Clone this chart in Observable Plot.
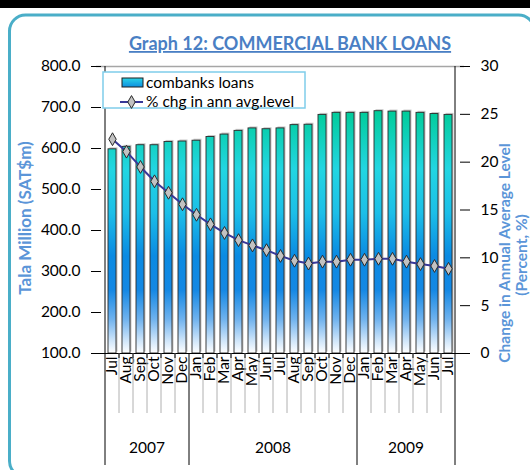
<!DOCTYPE html>
<html><head><meta charset="utf-8">
<script src="https://cdn.jsdelivr.net/npm/d3@7"></script>
<script src="https://cdn.jsdelivr.net/npm/@observablehq/plot@0.6"></script>
<style>body{margin:0;background:#fff}#chart svg{display:block}</style>
</head><body><div id="chart"></div>
<script>
const months = ["Jul","Aug","Sep","Oct","Nov","Dec","Jan","Feb","Mar","Apr","May","Jun","Jul","Aug","Sep","Oct","Nov","Dec","Jan","Feb","Mar","Apr","May","Jun","Jul"];
const years = [2007,2007,2007,2007,2007,2007,2008,2008,2008,2008,2008,2008,2008,2008,2008,2008,2008,2008,2009,2009,2009,2009,2009,2009,2009];
const loans = [598,604,608,608,616,617,619,628,634,643,649,647,649,657,658,682,687,687,687,691,690,690,687,684,682];
const pctChange = [22.4,21.1,19.5,18.0,16.8,15.6,14.5,13.5,12.6,11.85,11.3,10.8,10.2,9.7,9.4,9.6,9.6,9.8,9.8,9.9,9.9,9.6,9.35,9.15,8.85];
const leftTicks = [100,200,300,400,500,600,700,800];
const rightTicks = [0,5,10,15,20,25,30];
const yearLabels = ["2007","2008","2009"];
const seriesNames = ["combanks loans","% chg in ann avg.level"];
const titleText = "Graph 12: COMMERCIAL BANK LOANS";
const leftTitle = "Tala Million (SAT$m)";
const rightTitle = ["Change in Annual Average Level","(Percent, %)"];

const Y0 = 100, Y1 = 800, P1 = 30;
const toLeft = p => Y0 + p * (Y1 - Y0) / P1;
const keys = months.map((m, i) => years[i] + "-" + i + "-" + m);
const data = keys.map((k, i) => ({key: k, month: months[i], year: years[i], loans: loans[i], pct: pctChange[i]}));

const W = 530, H = 470;
const mL = 96, mR = 66, mT = 66, mB = 117;
const FONT = "Lato, 'Open Sans', sans-serif";

const chart = Plot.plot({
  width: W, height: H,
  marginLeft: mL, marginRight: mR, marginTop: mT, marginBottom: mB,
  style: {fontFamily: FONT, fontSize: "15px", color: "#000", background: "transparent"},
  x: {type: "band", domain: keys, padding: 0, axis: null},
  y: {domain: [Y0, Y1], axis: null},
  marks: [
    Plot.ruleY([Y1], {stroke: "#a6a6a6", strokeWidth: 1.5}),
    Plot.barY(data, {x: "key", y1: Y0, y2: "loans", fill: "#a0a0a0", fillOpacity: 0.6, insetLeft: 3, insetRight: 3, dx: 1.5, dy: -1.5}),
    Plot.barY(data, {x: "key", y1: Y0, y2: "loans", fill: "url(#barGrad)", stroke: "#2a2a2a", strokeWidth: 0.9, insetLeft: 3, insetRight: 3}),
    Plot.line(data, {x: "key", y: d => toLeft(d.pct), stroke: "#383898", strokeWidth: 2}),
    Plot.dot(data, {x: "key", y: d => toLeft(d.pct), symbol: "diamond", r: 3.9, fill: "#c2c2c2", stroke: "#2a2a2a", strokeWidth: 1}),
    Plot.ruleY([Y0], {stroke: "#000", strokeWidth: 1}),
    Plot.axisY(leftTicks, {anchor: "left", tickSize: 5, tickPadding: 11, tickFormat: d => d.toFixed(1), label: null, fontSize: 15.5}),
    Plot.axisY(leftTicks, {anchor: "left", tickSize: 5, dx: 5, tickFormat: () => "", label: null}),
    Plot.axisY(rightTicks.map(toLeft), {anchor: "right", tickSize: 5, tickPadding: 11, tickFormat: v => String(Math.round((v - Y0) * P1 / (Y1 - Y0))), label: null, fontSize: 15.5}),
    Plot.axisY(rightTicks.map(toLeft), {anchor: "right", tickSize: 5, dx: -5, tickFormat: () => "", label: null}),
    Plot.axisX({tickRotate: -90, tickSize: 0, tickPadding: 3, tickFormat: k => k.split("-")[2], label: null, fontSize: 15.5})
  ]
});
document.getElementById("chart").appendChild(chart);

const svg = d3.select(chart);
const xs = chart.scale("x"), ys = chart.scale("y");
const bw = xs.bandwidth;
const yTop = ys.apply(Y1), yBot = ys.apply(Y0);
const xLeft = xs.apply(keys[0]), xRight = xs.apply(keys[keys.length - 1]) + bw;

// gradients
const defs = svg.insert("defs", ":first-child");
const g1 = defs.append("linearGradient").attr("id", "barGrad").attr("gradientUnits", "userSpaceOnUse")
  .attr("x1", 0).attr("x2", 0).attr("y1", ys.apply(d3.max(loans))).attr("y2", yBot);
[[0, "#00cc99"], [0.24, "#22d6e2"], [0.42, "#1cbfe8"], [0.6, "#0a8ae2"], [0.74, "#1488e4"], [0.86, "#6fb2ee"], [0.95, "#d0e6fa"], [1, "#ffffff"]]
  .forEach(([o, c]) => g1.append("stop").attr("offset", o).attr("stop-color", c));
const g2 = defs.append("linearGradient").attr("id", "swGrad").attr("x1", 0).attr("x2", 0).attr("y1", 0).attr("y2", 1);
[[0, "#2ad4e6"], [1, "#0d8ee0"]].forEach(([o, c]) => g2.append("stop").attr("offset", o).attr("stop-color", c));

// outer frame
svg.append("rect").attr("x", 0).attr("y", 0).attr("width", W).attr("height", 8).attr("fill", "#000");
svg.append("rect").attr("x", 9.5).attr("y", 15).attr("width", 525).attr("height", 462).attr("rx", 16)
  .attr("fill", "none").attr("stroke", "#4aaec8").attr("stroke-width", 3);

// axis lines
svg.append("line").attr("x1", xLeft).attr("x2", xLeft).attr("y1", yTop).attr("y2", yBot).attr("stroke", "#000");
svg.append("line").attr("x1", xRight).attr("x2", xRight).attr("y1", yTop).attr("y2", yBot).attr("stroke", "#000");

// category separators
keys.forEach((k, i) => {
  const xp = xs.apply(k);
  const isYear = i === 0 || years[i] !== years[i - 1];
  if (!isYear) {
    svg.append("line").attr("x1", xp).attr("x2", xp).attr("y1", yBot).attr("y2", yBot + 60).attr("stroke", "#b0b0b0");
    svg.append("line").attr("x1", xp).attr("x2", xp).attr("y1", yBot).attr("y2", yBot + 5).attr("stroke", "#000");
  }
});
const yearBounds = [];
keys.forEach((k, i) => { if (i === 0 || years[i] !== years[i - 1]) yearBounds.push(i); });
yearBounds.push(keys.length);
yearBounds.forEach(i => {
  const xp = i < keys.length ? xs.apply(keys[i]) : xRight;
  svg.append("line").attr("x1", xp).attr("x2", xp).attr("y1", yBot).attr("y2", yBot + 112).attr("stroke", "#000");
});
yearLabels.forEach((yl, j) => {
  const a = xs.apply(keys[yearBounds[j]]);
  const b = yearBounds[j + 1] < keys.length ? xs.apply(keys[yearBounds[j + 1]]) : xRight;
  svg.append("text").attr("x", (a + b) / 2).attr("y", yBot + 100).attr("text-anchor", "middle")
    .attr("font-size", 15.5).attr("fill", "#000").text(yl);
});

// title
svg.append("text").attr("x", 290).attr("y", 50).attr("text-anchor", "middle")
  .attr("font-size", 18).attr("font-weight", "bold").attr("fill", "#4a7fc4")
  .attr("text-decoration", "underline").text(titleText);

// axis titles
svg.append("text").attr("transform", "translate(31,218) rotate(-90)").attr("text-anchor", "middle")
  .attr("font-size", 17).attr("font-weight", "bold").attr("fill", "#5b95d8").text(leftTitle);
svg.append("text").attr("transform", "translate(510,253) rotate(-90)").attr("text-anchor", "middle")
  .attr("font-size", 15.5).attr("font-weight", "bold").attr("fill", "#5b95d8").text(rightTitle[0]);
svg.append("text").attr("transform", "translate(527,255) rotate(-90)").attr("text-anchor", "middle")
  .attr("font-size", 15.5).attr("font-weight", "bold").attr("fill", "#5b95d8").text(rightTitle[1]);

// legend
const lg = svg.append("g").attr("text-anchor", "start");
lg.append("rect").attr("x", 103).attr("y", 72).attr("width", 202).attr("height", 36)
  .attr("fill", "#fff").attr("stroke", "#7fcdea").attr("stroke-width", 1.5);
lg.append("rect").attr("x", 122).attr("y", 78).attr("width", 21).attr("height", 9)
  .attr("fill", "url(#swGrad)").attr("stroke", "#1e1e1e");
lg.append("text").attr("x", 146).attr("y", 88).attr("font-size", 15.5).attr("fill", "#000").text(seriesNames[0]);
lg.append("line").attr("x1", 120).attr("x2", 143).attr("y1", 102).attr("y2", 102).attr("stroke", "#383898").attr("stroke-width", 2);
lg.append("path").attr("d", d3.symbol(d3.symbolDiamond, Math.PI * 3.9 * 3.9)()).attr("transform", "translate(131.5,102)")
  .attr("fill", "#c2c2c2").attr("stroke", "#2a2a2a");
lg.append("text").attr("x", 146).attr("y", 107).attr("font-size", 15.5).attr("fill", "#000").text(seriesNames[1]);
</script>
</body></html>
